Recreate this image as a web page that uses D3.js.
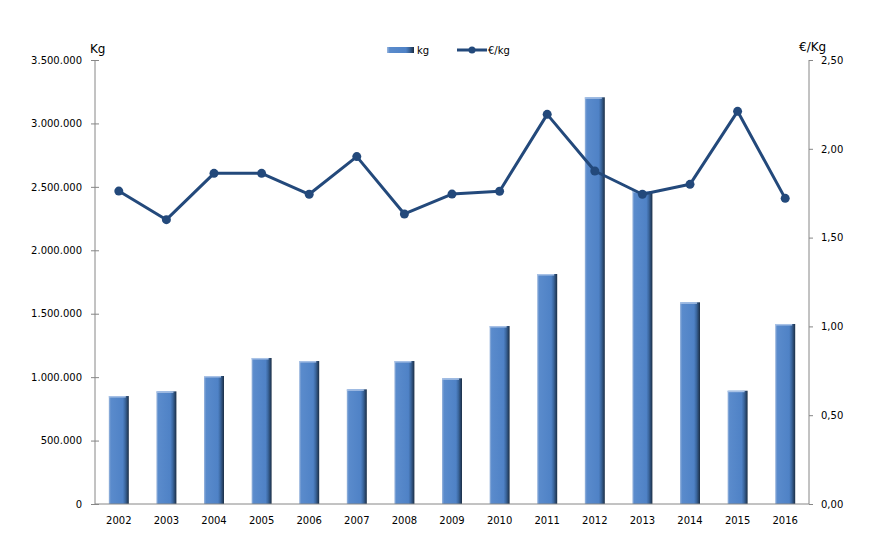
<!DOCTYPE html>
<html>
<head>
<meta charset="utf-8">
<script src="https://cdn.jsdelivr.net/npm/d3@7"></script>
<style>
  body { margin: 0; background: #fff; }
  svg text { font-family: "DejaVu Sans", sans-serif; fill: #000; }
</style>
</head>
<body>
<div id="chart"></div>
<script>
// data
const years = ["2002","2003","2004","2005","2006","2007","2008","2009","2010","2011","2012","2013","2014","2015","2016"];
const kg = [851000, 888000, 1009000, 1151000, 1127000, 904000, 1127000, 991000, 1403000, 1813000, 3206000, 2467000, 1590000, 893000, 1419000];
const pricePerKg = [1.762, 1.601, 1.862, 1.862, 1.744, 1.956, 1.633, 1.745, 1.761, 2.194, 1.875, 1.744, 1.80, 2.211, 1.721];
const leftTicks = [0, 500000, 1000000, 1500000, 2000000, 2500000, 3000000, 3500000];
const rightTicks = [0, 0.5, 1, 1.5, 2, 2.5];

const width = 892, height = 560;
const margin = {top: 60, right: 83, bottom: 56, left: 95};

let svg = d3.select("#chart").append("svg")
    .attr("width", width)
    .attr("height", height);

// bar gradient, light left edge, dark right edge
let defs = svg.append("defs");
let grad = defs.append("linearGradient").attr("id", "barGrad")
    .attr("x1", "0%").attr("x2", "100%").attr("y1", "0%").attr("y2", "0%");
grad.append("stop").attr("offset", "0%").attr("stop-color", "#9db8de");
grad.append("stop").attr("offset", "10%").attr("stop-color", "#5a8bcc");
grad.append("stop").attr("offset", "70%").attr("stop-color", "#4f82c6");
grad.append("stop").attr("offset", "82%").attr("stop-color", "#3b679f");
grad.append("stop").attr("offset", "100%").attr("stop-color", "#1b2e45");

let xScale = d3.scaleBand()
    .domain(years)
    .range([margin.left, width - margin.right]);

let yLeft = d3.scaleLinear()
    .domain([0, 3500000])
    .range([height - margin.bottom, margin.top]);

let yRight = d3.scaleLinear()
    .domain([0, 2.5])
    .range([height - margin.bottom, margin.top]);

let fmtKg = function(d){ return d3.format(",")(d).replace(/,/g, "."); };
let fmtEur = function(d){ return d3.format(".2f")(d).replace(".", ","); };

// bars
let barW = 20;
svg.selectAll("rect.bar")
    .data(kg).enter()
    .append("rect")
    .attr("class", "bar")
    .attr("x", (d, i) => xScale(years[i]) + xScale.bandwidth()/2 - barW/2)
    .attr("y", d => yLeft(d))
    .attr("width", barW)
    .attr("height", d => yLeft(0) - yLeft(d))
    .attr("fill", "url(#barGrad)");

// bar top highlight
svg.selectAll("rect.barTop")
    .data(kg).enter()
    .append("rect")
    .attr("class", "barTop")
    .attr("x", (d, i) => xScale(years[i]) + xScale.bandwidth()/2 - barW/2)
    .attr("y", d => yLeft(d))
    .attr("width", barW - 3)
    .attr("height", 1.5)
    .attr("fill", "#a9c2e6");

// left axis
let leftAxis = svg.append("g")
    .attr("transform", "translate(" + margin.left + ",0)")
    .call(d3.axisLeft(yLeft).tickValues(leftTicks).tickFormat(fmtKg).tickSize(4).tickPadding(9));
leftAxis.selectAll("line").attr("x2", -4).attr("x1", 4);
leftAxis.select(".domain").attr("d", "M0," + margin.top + "V" + (height - margin.bottom));

// right axis
let rightAxis = svg.append("g")
    .attr("transform", "translate(" + (width - margin.right) + ",0)")
    .call(d3.axisRight(yRight).tickValues(rightTicks).tickFormat(fmtEur).tickSize(4).tickPadding(8));
rightAxis.select(".domain").attr("d", "M0," + margin.top + "V" + (height - margin.bottom));

// bottom axis
let bottomAxis = svg.append("g")
    .attr("transform", "translate(0," + (height - margin.bottom) + ")")
    .call(d3.axisBottom(xScale).tickSize(0).tickPadding(13));
bottomAxis.select(".domain").attr("d", "M" + margin.left + ",0H" + (width - margin.right));

svg.selectAll(".domain, .tick line").attr("stroke", "#868686");
svg.selectAll(".tick text").attr("font-size", 10).attr("font-family", "DejaVu Sans");

// line
let line = d3.line()
    .x((d, i) => xScale(years[i]) + xScale.bandwidth()/2)
    .y(d => yRight(d));

svg.append("path")
    .datum(pricePerKg)
    .attr("fill", "none")
    .attr("stroke", "#23497b")
    .attr("stroke-width", 3)
    .attr("stroke-linejoin", "round")
    .attr("d", line);

svg.selectAll("circle.pt")
    .data(pricePerKg).enter()
    .append("circle")
    .attr("class", "pt")
    .attr("cx", (d, i) => xScale(years[i]) + xScale.bandwidth()/2)
    .attr("cy", d => yRight(d))
    .attr("r", 4.5)
    .attr("fill", "#23497b");

// axis titles
svg.append("text").attr("x", 90).attr("y", 53)
    .attr("font-size", 12).text("Kg");
svg.append("text").attr("x", 799).attr("y", 51)
    .attr("font-size", 12).text("€/Kg");

// legend
let legend = svg.append("g");
legend.append("rect")
    .attr("x", 387).attr("y", 47).attr("width", 27).attr("height", 6)
    .attr("fill", "url(#barGrad)");
legend.append("text").attr("x", 417).attr("y", 54)
    .attr("font-size", 10).text("kg");
legend.append("line")
    .attr("x1", 457).attr("x2", 487).attr("y1", 50).attr("y2", 50)
    .attr("stroke", "#23497b").attr("stroke-width", 3);
legend.append("circle")
    .attr("cx", 472).attr("cy", 50).attr("r", 3.5)
    .attr("fill", "#23497b");
legend.append("text").attr("x", 488).attr("y", 54)
    .attr("font-size", 10).text("€/kg");
</script>
</body>
</html>
